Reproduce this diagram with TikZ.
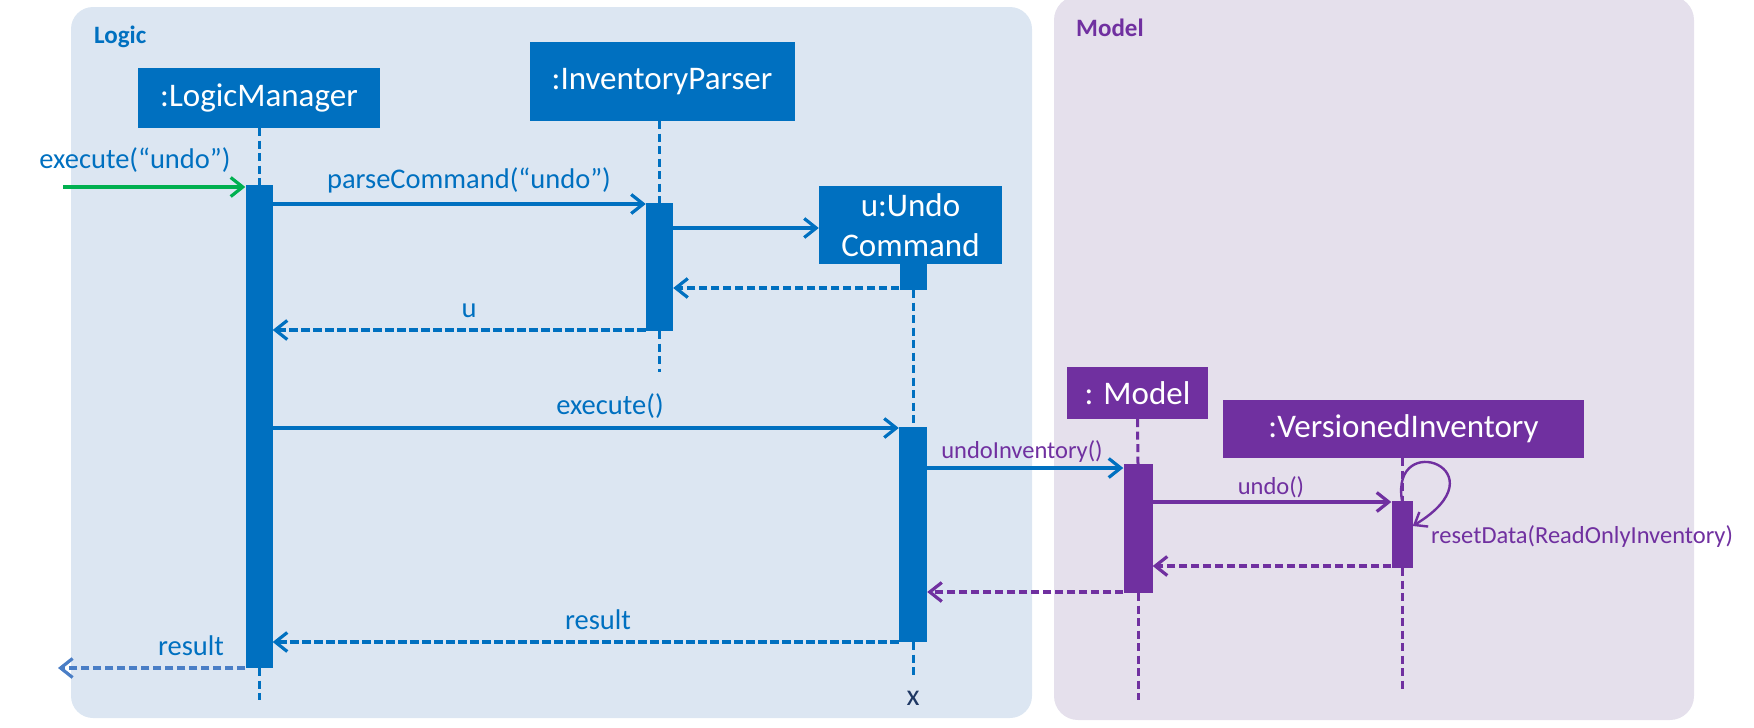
\documentclass[tikz,border=0pt]{standalone}
\usepackage{fontspec}
\setmainfont{Carlito}
\usetikzlibrary{arrows.meta}
\definecolor{cblue}{HTML}{0070C0}
\definecolor{cpurple}{HTML}{7030A0}
\definecolor{cgreen}{HTML}{00B050}
\definecolor{logicbg}{HTML}{DCE6F2}
\definecolor{modelbg}{HTML}{E5E0EC}
\definecolor{outblue}{HTML}{4A7EC6}
\definecolor{xnavy}{HTML}{1F3864}
\begin{document}
\begin{tikzpicture}[x=1pt,y=-1pt,
  obj/.style={rectangle, inner sep=0pt, text=white, font=\fontsize{33}{40}\selectfont, align=center},
  bar/.style={rectangle, inner sep=0pt, minimum width=27pt},
  life/.style={line width=3pt, dash pattern=on 8pt off 4.5pt},
  msg/.style={line width=3.2pt, -{Straight Barb[length=12pt,width=19pt]}},
  ret/.style={msg, dash pattern=on 8.5pt off 3.5pt},
  lbl/.style={font=\fontsize{28.5}{32}\selectfont, text=cblue, inner sep=0pt},
  plbl/.style={font=\fontsize{24.5}{28}\selectfont, text=cpurple, inner sep=0pt},
  panellbl/.style={font=\bfseries\fontsize{25}{30}\selectfont, anchor=west, inner sep=0pt}
]
\useasboundingbox (0,0) rectangle (1754,728);
% panels
\begin{scope}
\clip (0,0) rectangle (1754,728);
\fill[logicbg, rounded corners=22pt] (71,7) rectangle (1032,718);
\fill[modelbg, rounded corners=24pt] (1054,-4) rectangle (1694,720);
\end{scope}
\node[panellbl, text=cblue] (logiclbl) at (94,37) {Logic};
\node[panellbl, text=cpurple] (modellbl) at (1076,28) {Model};
% objects
\node[obj, fill=cblue, minimum width=242pt, minimum height=60pt] (lm) at (259,98) {:LogicManager};
\node[obj, fill=cblue, minimum width=265pt, minimum height=79pt] (ip) at (662,81.5) {:InventoryParser};
\node[obj, fill=cblue, minimum width=183pt, minimum height=78pt] (uc) at (910.5,225) {u:Undo\\Command};
\node[obj, fill=cpurple, minimum width=141pt, minimum height=52pt] (model) at (1137.5,393) {: Model};
\node[obj, fill=cpurple, minimum width=361pt, minimum height=58pt] (vi) at (1403.5,429) {:VersionedInventory};
% activation bars
\node[bar, fill=cblue, minimum height=483pt] (lmbar) at (259,426.5) {};
\node[bar, fill=cblue, minimum height=128pt] (ipbar) at (659.5,267) {};
\node[bar, fill=cblue, minimum height=26pt] (ucsmall) at (913,277) {};
\node[bar, fill=cblue, minimum width=28pt, minimum height=215pt] (ucbar) at (913,534.5) {};
\node[bar, fill=cpurple, minimum width=29pt, minimum height=129pt] (mbar) at (1138,528.5) {};
\node[bar, fill=cpurple, minimum width=21pt, minimum height=67pt] (vibar) at (1402,534.5) {};
% lifeline ends
\coordinate (lmend) at (259,700);
\coordinate (ipend) at (659.5,372);
\coordinate (ucend) at (913,678);
\coordinate (mend) at (1138,700);
\coordinate (viend) at (1402,692);
% lifelines
\draw[life, cblue] (lm.south) -- (lmbar.north);
\draw[life, cblue] (lmbar.south) -- (lmend);
\draw[life, cblue] (ipbar.north |- ip.south) -- (ipbar.north);
\draw[life, cblue] (ipbar.south) -- (ipend);
\draw[life, cblue] (ucsmall.south) -- (ucbar.north);
\draw[life, cblue] (ucbar.south) -- (ucend);
\draw[life, cpurple] (model.south) -- (mbar.north);
\draw[life, cpurple] (mbar.south) -- (mend);
\draw[life, cpurple] (vibar.north |- vi.south) -- (vibar.north);
\draw[life, cpurple] (vibar.south) -- (viend);
\node[font=\fontsize{30}{32}\selectfont, text=xnavy, inner sep=0pt] (xmark) at (913,698) {x};
% messages
\coordinate (in) at (63,187);
\draw[msg, cgreen] (in) -- (lmbar.west |- in);
\node[lbl] (l1) at (135,160) {execute(“undo”)};
\draw[msg, cblue] (lmbar.east |- 0,204) -- (ipbar.west |- 0,204);
\node[lbl] (l2) at (469,180) {parseCommand(“undo”)};
\draw[msg, cblue] (ipbar.east |- 0,228) -- (uc.west |- 0,228);
\draw[ret, cblue] (ucsmall.west |- 0,288) -- (ipbar.east |- 0,288);
\draw[ret, cblue] (ipbar.west |- 0,330) -- (lmbar.east |- 0,330);
\node[lbl] (l3) at (469,311) {u};
\draw[msg, cblue] (lmbar.east |- 0,428) -- (ucbar.west |- 0,428);
\node[lbl] (l4) at (610,406) {execute()};
\draw[msg, cblue] (ucbar.east |- 0,468) -- (mbar.west |- 0,468);
\node[plbl] (l5) at (1022,452) {undoInventory()};
\draw[msg, cpurple] (mbar.east |- 0,502) -- (vibar.west |- 0,502);
\node[plbl] (l6) at (1271,487) {undo()};
\draw[line width=2.4pt, cpurple, -{Straight Barb[length=11pt,width=17pt]}] (vibar.north) .. controls (1390,428) and (1505,470) .. (vibar.east |- 0,526);
\node[plbl, anchor=west] (l7) at (1431,537) {resetData(ReadOnlyInventory)};
\draw[ret, cpurple] (vibar.west |- 0,566) -- (mbar.east |- 0,566);
\draw[ret, cpurple] (mbar.west |- 0,592) -- (ucbar.east |- 0,592);
\draw[ret, cblue] (ucbar.west |- 0,642) -- (lmbar.east |- 0,642);
\node[lbl] (l8) at (598,620) {result};
\coordinate (out) at (58,668);
\draw[ret, outblue] (lmbar.west |- 0,668) -- (out);
\node[lbl] (l9) at (191,646) {result};
\end{tikzpicture}
\end{document}
